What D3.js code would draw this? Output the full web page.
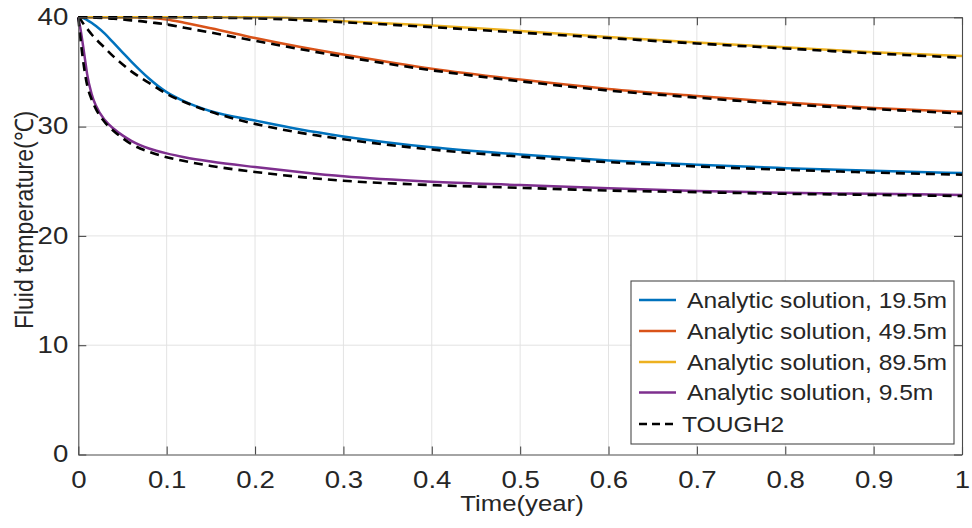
<!DOCTYPE html>
<html><head><meta charset="utf-8">
<script src="https://cdn.jsdelivr.net/npm/d3@7"></script>
<style>
body{margin:0;background:#fff}
svg text{font-family:"Liberation Sans",Arial,Helvetica,sans-serif;fill:#262626}
</style>
</head><body>
<svg id="chart" width="972" height="528"></svg>
<script>
// ---- data ----
const timeYears = [0, 0.0025, 0.005, 0.0075, 0.01, 0.015, 0.02, 0.03, 0.04, 0.05, 0.06, 0.07, 0.08, 0.1, 0.12, 0.15, 0.2, 0.25, 0.3, 0.4, 0.5, 0.6, 0.7, 0.8, 0.9, 1.0];

const analytic19_5 = [40, 39.98, 39.93, 39.85, 39.75, 39.5, 39.2, 38.5, 37.65, 36.8, 35.95, 35.15, 34.4, 33.15, 32.3, 31.4, 30.55, 29.75, 29.1, 28.1, 27.45, 26.9, 26.5, 26.2, 25.95, 25.75];
const analytic49_5 = [40, 40, 40, 40, 40, 40, 40, 40, 40, 40, 40, 39.98, 39.95, 39.8, 39.5, 39.0, 38.1, 37.3, 36.6, 35.3, 34.3, 33.45, 32.8, 32.2, 31.7, 31.35];
const analytic89_5 = [40, 40, 40, 40, 40, 40, 40, 40, 40, 40, 40, 40, 40, 40, 40, 40, 40, 39.9, 39.65, 39.25, 38.75, 38.2, 37.7, 37.25, 36.8, 36.45];
const analytic9_5  = [40, 38.9, 37.6, 36.2, 34.8, 33.0, 31.9, 30.6, 29.8, 29.2, 28.7, 28.3, 28.0, 27.55, 27.2, 26.8, 26.3, 25.85, 25.45, 24.95, 24.65, 24.35, 24.1, 23.95, 23.85, 23.75];

const tough19_5 = [40, 39.8, 39.5, 39.2, 38.95, 38.45, 38.0, 37.2, 36.4, 35.7, 35.05, 34.5, 34.0, 33.0, 32.25, 31.35, 30.25, 29.45, 28.85, 27.9, 27.25, 26.75, 26.35, 26.05, 25.8, 25.6];
const tough49_5 = [40, 40, 40, 40, 40, 39.99, 39.97, 39.92, 39.87, 39.8, 39.72, 39.65, 39.55, 39.35, 39.05, 38.6, 37.85, 37.1, 36.4, 35.15, 34.15, 33.3, 32.65, 32.05, 31.6, 31.2];
const tough89_5 = [40, 40, 40, 40, 40, 40, 40, 40, 40, 40, 40, 40, 40, 40, 40, 39.97, 39.9, 39.75, 39.55, 39.1, 38.6, 38.1, 37.6, 37.15, 36.7, 36.3];
const tough9_5  = [40, 38.0, 36.3, 34.9, 33.8, 32.5, 31.6, 30.4, 29.6, 28.95, 28.4, 28.0, 27.7, 27.2, 26.85, 26.4, 25.85, 25.4, 25.05, 24.65, 24.4, 24.15, 24.0, 23.85, 23.75, 23.65];

const xTicks = [0, 0.1, 0.2, 0.3, 0.4, 0.5, 0.6, 0.7, 0.8, 0.9, 1];
const xTickLabels = ["0", "0.1", "0.2", "0.3", "0.4", "0.5", "0.6", "0.7", "0.8", "0.9", "1"];
const yTicks = [0, 10, 20, 30, 40];
const yTickLabels = ["0", "10", "20", "30", "40"];

const seriesNames = ["Analytic solution, 19.5m", "Analytic solution, 49.5m", "Analytic solution, 89.5m", "Analytic solution, 9.5m"];
const seriesColors = ["#0072BD", "#D95319", "#EDB120", "#7E2F8E"];
const toughName = "TOUGH2";
const xLabel = "Time(year)";
const yLabel = "Fluid temperature(\u2103)";

// ---- layout ----
const svg = d3.select("#chart");
const L = 78.3, R = 962, T = 17.3, B = 454.5;
const x = d3.scaleLinear().domain([0, 1]).range([L, R]);
const y = d3.scaleLinear().domain([0, 40]).range([B, T]);
const axisColor = "#4a4a4a";

svg.append("rect").attr("width", 972).attr("height", 528).attr("fill", "#fff");

// grid
const grid = svg.append("g");
grid.selectAll("line.gx").data(xTicks.filter(d => d > 0 && d < 1)).join("line")
  .attr("x1", d => x(d)).attr("x2", d => x(d)).attr("y1", T).attr("y2", B)
  .attr("stroke", "#e3e3e3").attr("stroke-width", 1);
grid.selectAll("line.gy").data(yTicks.filter(d => d > 0 && d < 40)).join("line")
  .attr("y1", d => y(d)).attr("y2", d => y(d)).attr("x1", L).attr("x2", R)
  .attr("stroke", "#e3e3e3").attr("stroke-width", 1);

// lines
const lineGen = vals => d3.line()
  .x((d, i) => x(timeYears[i]))
  .y(d => y(d))
  .curve(d3.curveMonotoneX)(vals);

const analytic = [analytic19_5, analytic49_5, analytic89_5, analytic9_5];
const tough = [tough19_5, tough49_5, tough89_5, tough9_5];

const plot = svg.append("g");
analytic.forEach((vals, i) => {
  plot.append("path").attr("d", lineGen(vals)).attr("fill", "none")
    .attr("stroke", seriesColors[i]).attr("stroke-width", 2.5).attr("stroke-linejoin", "round");
});
tough.forEach(vals => {
  plot.append("path").attr("d", lineGen(vals)).attr("fill", "none")
    .attr("stroke", "#000").attr("stroke-width", 2.6).attr("stroke-dasharray", "9,6");
});

// axes
function styleAxis(g) {
  g.selectAll("path.domain").attr("stroke", axisColor).attr("stroke-width", 1.1);
  g.selectAll(".tick line").attr("stroke", axisColor).attr("stroke-width", 1.1);
}
const tickFont = 23;
const gx = svg.append("g").attr("transform", `translate(0,${B})`)
  .call(d3.axisBottom(x).tickValues(xTicks).tickFormat((d, i) => xTickLabels[i])
    .tickSize(-8).tickSizeOuter(0).tickPadding(17));
gx.selectAll("text").attr("font-size", tickFont).attr("font-family", null)
  .attr("transform", "scale(1.2,1)");
styleAxis(gx);

const gy = svg.append("g").attr("transform", `translate(${L},0)`)
  .call(d3.axisLeft(y).tickValues(yTicks).tickFormat((d, i) => yTickLabels[i])
    .tickSize(-8).tickSizeOuter(0).tickPadding(10));
gy.selectAll("text").attr("font-size", tickFont).attr("font-family", null)
  .attr("transform", "scale(1.2,1)").attr("x", -10 / 1.2);
styleAxis(gy);

const gt = svg.append("g").attr("transform", `translate(0,${T})`)
  .call(d3.axisTop(x).tickValues(xTicks).tickFormat("").tickSize(-8).tickSizeOuter(0));
styleAxis(gt);
const gr = svg.append("g").attr("transform", `translate(${R},0)`)
  .call(d3.axisRight(y).tickValues(yTicks).tickFormat("").tickSize(-8).tickSizeOuter(0));
styleAxis(gr);

// axis labels
svg.append("g").attr("transform", `translate(522,511) scale(1.17,1)`)
  .append("text").attr("text-anchor", "middle").attr("font-size", 22).text(xLabel);
svg.append("g").attr("transform", `translate(33,220) rotate(-90) scale(1,1.1)`)
  .append("text").attr("text-anchor", "middle").attr("font-size", 23).text(yLabel);

// legend
const lg = svg.append("g");
lg.append("rect").attr("x", 631).attr("y", 281).attr("width", 323).attr("height", 163)
  .attr("fill", "#fff").attr("stroke", axisColor).attr("stroke-width", 1.1);
const rowY = [300, 331, 362, 392.5, 424];
seriesNames.forEach((name, i) => {
  lg.append("line").attr("x1", 639).attr("x2", 676).attr("y1", rowY[i]).attr("y2", rowY[i])
    .attr("stroke", seriesColors[i]).attr("stroke-width", 2.5);
  lg.append("g").attr("transform", `translate(687,${rowY[i]}) scale(1.12,1)`)
    .append("text").attr("dy", "0.36em").attr("font-size", 22).text(name);
});
lg.append("line").attr("x1", 639).attr("x2", 677).attr("y1", rowY[4]).attr("y2", rowY[4])
  .attr("stroke", "#000").attr("stroke-width", 2.4).attr("stroke-dasharray", "8,5");
lg.append("g").attr("transform", `translate(682,${rowY[4]}) scale(1.12,1)`)
  .append("text").attr("dy", "0.36em").attr("font-size", 22).text(toughName);
</script>
</body></html>
